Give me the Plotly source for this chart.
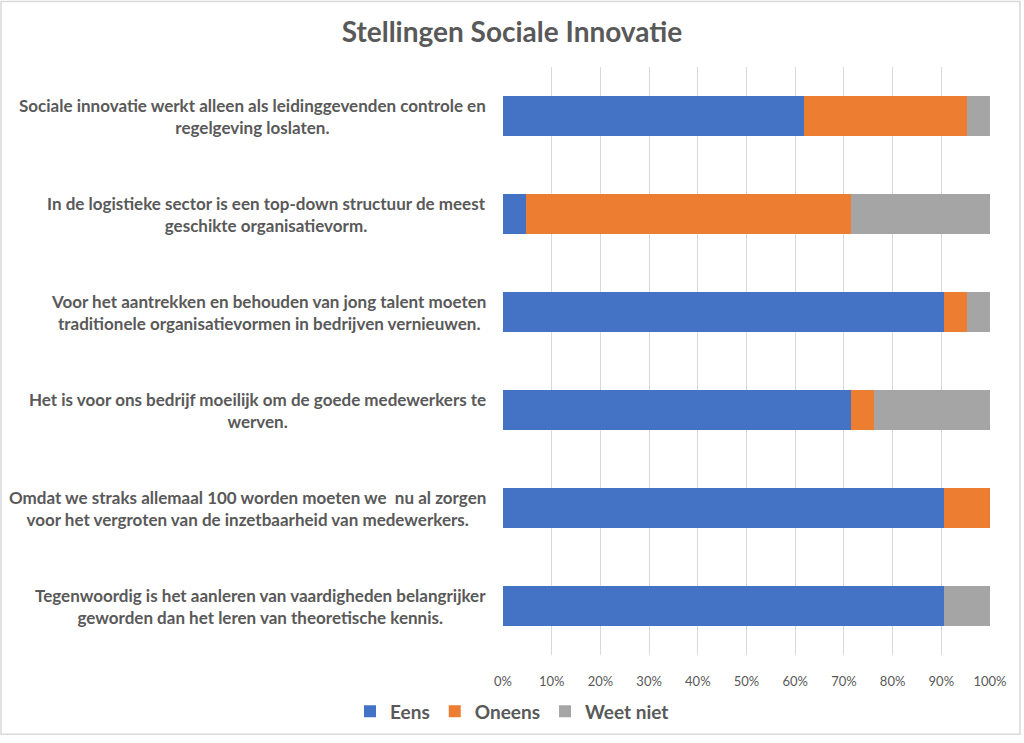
import plotly.graph_objects as go

# Data (n = 21 respondents, shares in %)
statements = [
    "Sociale innovatie werkt alleen als leidinggevenden controle en regelgeving loslaten.",
    "In de logistieke sector is een top-down structuur de meest geschikte organisatievorm.",
    "Voor het aantrekken en behouden van jong talent moeten traditionele organisatievormen in bedrijven vernieuwen.",
    "Het is voor ons bedrijf moeilijk om de goede medewerkers te werven.",
    "Omdat we straks allemaal 100 worden moeten we  nu al zorgen voor het vergroten van de inzetbaarheid van medewerkers.",
    "Tegenwoordig is het aanleren van vaardigheden belangrijker geworden dan het leren van theoretische kennis.",
]
label_lines = [
    ["Sociale innovatie werkt alleen als leidinggevenden controle en", "regelgeving loslaten."],
    ["In de logistieke sector is een top-down structuur de meest", "geschikte organisatievorm."],
    ["Voor het aantrekken en behouden van jong talent moeten", "traditionele organisatievormen in bedrijven vernieuwen."],
    ["Het is voor ons bedrijf moeilijk om de goede medewerkers te", "werven."],
    ["Omdat we straks allemaal 100 worden moeten we &nbsp;nu al zorgen", "voor het vergroten van de inzetbaarheid van medewerkers."],
    ["Tegenwoordig is het aanleren van vaardigheden belangrijker", "geworden dan het leren van theoretische kennis."],
]
eens = [61.9, 4.8, 90.5, 71.4, 90.5, 90.5]
oneens = [33.3, 66.7, 4.8, 4.8, 9.5, 0.0]
weet_niet = [4.8, 28.6, 4.8, 23.8, 0.0, 9.5]
tick_vals = [0, 10, 20, 30, 40, 50, 60, 70, 80, 90, 100]
tick_text = [f"{v}%" for v in tick_vals]

FONT = "Lato"
TXT = "#595959"

fig = go.Figure()
for name, vals, col in [("Eens", eens, "#4472C4"), ("Oneens", oneens, "#ED7D31"), ("Weet niet", weet_niet, "#A5A5A5")]:
    fig.add_trace(go.Bar(name=name, y=statements, x=vals, orientation="h",
                         marker=dict(color=col, line=dict(width=0))))

W, H = 1024, 743
L, R, T, B = 503, 34, 67, 83
pw, ph = W - L - R, H - T - B

for s, lines in zip(statements, label_lines):
    fig.add_annotation(x=-15 / pw, xref="paper", y=s, yref="y", xanchor="right",
                       text="<br>".join(lines), align="center", showarrow=False,
                       font=dict(family=FONT, size=17, color=TXT, weight="bold"))

# chart border
fig.add_shape(type="rect", xref="paper", yref="paper",
              x0=(1 - L) / pw, x1=(1020 - L) / pw,
              y0=-(740 - T - ph) / ph, y1=(ph + T - 1) / ph,
              line=dict(color="#D9D9D9", width=1.5), fillcolor="rgba(0,0,0,0)", layer="below")

fig.update_layout(
    width=W, height=H,
    barmode="stack", bargap=0.6,
    margin=dict(l=L, r=R, t=T, b=B),
    paper_bgcolor="white", plot_bgcolor="white",
    title=dict(text="Stellingen Sociale Innovatie", x=0.5, xanchor="center", y=1 - 32 / H, yanchor="middle",
               font=dict(family=FONT, size=28, color=TXT, weight="bold")),
    xaxis=dict(range=[0, 100], tickvals=tick_vals, ticktext=tick_text, showgrid=True,
               gridcolor="#D9D9D9", gridwidth=1, zeroline=False, showline=False,
               tickfont=dict(family=FONT, size=13, color=TXT), ticks="", ticklen=0,
               ticklabelstandoff=17),
    yaxis=dict(autorange="reversed", showticklabels=False, showgrid=False, zeroline=False, showline=False,
               categoryorder="array", categoryarray=statements),
    legend=dict(orientation="h", x=(512 - L) / pw, xanchor="center",
                y=-(717 - T - ph) / ph, yanchor="middle",
                font=dict(family=FONT, size=19, color=TXT, weight="bold"), traceorder="normal"),
    showlegend=True,
)

fig.write_html("out.html", config={"displayModeBar": False},
               post_script="document.body.style.margin='0';document.body.style.overflow='hidden';")
